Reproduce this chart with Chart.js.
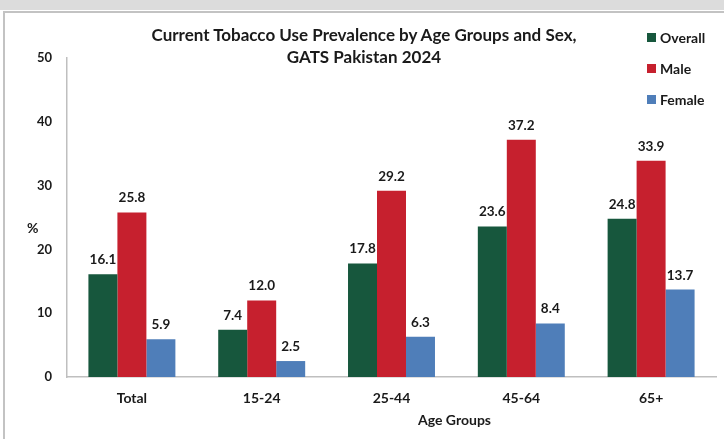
<!DOCTYPE html>
<html>
<head>
<meta charset="utf-8">
<script src="https://cdn.jsdelivr.net/npm/chart.js@4"></script>
<style>
  html, body { margin: 0; padding: 0; background: #ffffff; }
  #wrap { position: relative; width: 724px; height: 439px; overflow: hidden; font-family: Lato, "Open Sans", sans-serif; }
  #topband { position: absolute; left: 0; top: 0; width: 724px; height: 10px; background: #dcdcdc; }
  #frame { position: absolute; left: 3px; top: 11px; width: 760px; height: 460px; border-left: 2px solid #c3c3c3; border-top: 2px solid #c3c3c3; }
  #c { position: absolute; left: 0; top: 0; }
  .ov { position: absolute; color: #1a1a1a; font-weight: 700; white-space: nowrap; }
  #title { left: 114px; width: 500px; top: 24px; text-align: center; font-size: 17px; line-height: 22px; }
  #ylab { left: 27px; top: 219px; font-size: 14px; }
  #xlab { left: 418px; top: 411px; font-size: 14px; }
  #legend { position: absolute; left: 647px; top: 22px; }
  .li { height: 31px; display: flex; align-items: center; font-size: 14px; font-weight: 700; color: #1a1a1a; }
  .sw { width: 9px; height: 9px; margin-right: 4px; }
</style>
</head>
<body>
<div id="wrap">
  <div id="topband"></div>
  <div id="frame"></div>
  <canvas id="c" width="724" height="439"></canvas>
  <div class="ov" id="title">Current Tobacco Use Prevalence by Age Groups and Sex,<br>GATS Pakistan 2024</div>
  <div class="ov" id="ylab">%</div>
  <div class="ov" id="xlab">Age Groups</div>
  <div id="legend"></div>
</div>
<script>
const categories = ["Total", "15-24", "25-44", "45-64", "65+"];
const seriesNames = ["Overall", "Male", "Female"];
const overall = [16.1, 7.4, 17.8, 23.6, 24.8];
const male = [25.8, 12.0, 29.2, 37.2, 33.9];
const female = [5.9, 2.5, 6.3, 8.4, 13.7];
const yTicks = [0, 10, 20, 30, 40, 50];
const colors = ["#17573d", "#c6202e", "#4f7eb9"];

const legendEl = document.getElementById('legend');
seriesNames.forEach((n, i) => {
  const d = document.createElement('div');
  d.className = 'li';
  d.innerHTML = '<span class="sw" style="background:' + colors[i] + '"></span>' + n;
  legendEl.appendChild(d);
});

const valueLabels = {
  id: 'valueLabels',
  afterDatasetsDraw(chart) {
    const ctx = chart.ctx;
    ctx.save();
    ctx.font = 'bold 13.5px Lato, "Open Sans", sans-serif';
    ctx.fillStyle = '#1a1a1a';
    ctx.textAlign = 'center';
    ctx.textBaseline = 'alphabetic';
    chart.data.datasets.forEach((ds, di) => {
      chart.getDatasetMeta(di).data.forEach((bar, i) => {
        ctx.fillText(ds.data[i].toFixed(1), bar.x, bar.y - 10);
      });
    });
    ctx.restore();
  }
};

new Chart(document.getElementById('c'), {
  type: 'bar',
  data: {
    labels: categories,
    datasets: [
      { label: seriesNames[0], data: overall, backgroundColor: colors[0] },
      { label: seriesNames[1], data: male, backgroundColor: colors[1] },
      { label: seriesNames[2], data: female, backgroundColor: colors[2] }
    ]
  },
  options: {
    responsive: false,
    animation: false,
    devicePixelRatio: 1,
    layout: { padding: { left: 0, right: 8, top: 58, bottom: 0 } },
    datasets: { bar: { categoryPercentage: 0.67, barPercentage: 1.0, borderWidth: 0 } },
    plugins: { legend: { display: false }, title: { display: false }, tooltip: { enabled: false } },
    scales: {
      x: {
        grid: { display: false, drawTicks: false },
        border: { display: true, color: '#bfbfbf', width: 1.5 },
        ticks: { padding: 13, color: '#1a1a1a', font: { family: 'Lato', size: 14, weight: 'bold' } },
        afterFit(s) { s.height = 62; }
      },
      y: {
        min: 0, max: 50,
        afterBuildTicks(s) { s.ticks = yTicks.map(v => ({ value: v })); },
        grid: { display: false, drawTicks: false },
        border: { display: true, color: '#bfbfbf', width: 1.5 },
        ticks: { padding: 15, color: '#1a1a1a', font: { family: 'Lato', size: 13, weight: 'bold' } },
        afterFit(s) { s.width = 67; }
      }
    }
  },
  plugins: [valueLabels]
});
</script>
</body>
</html>
